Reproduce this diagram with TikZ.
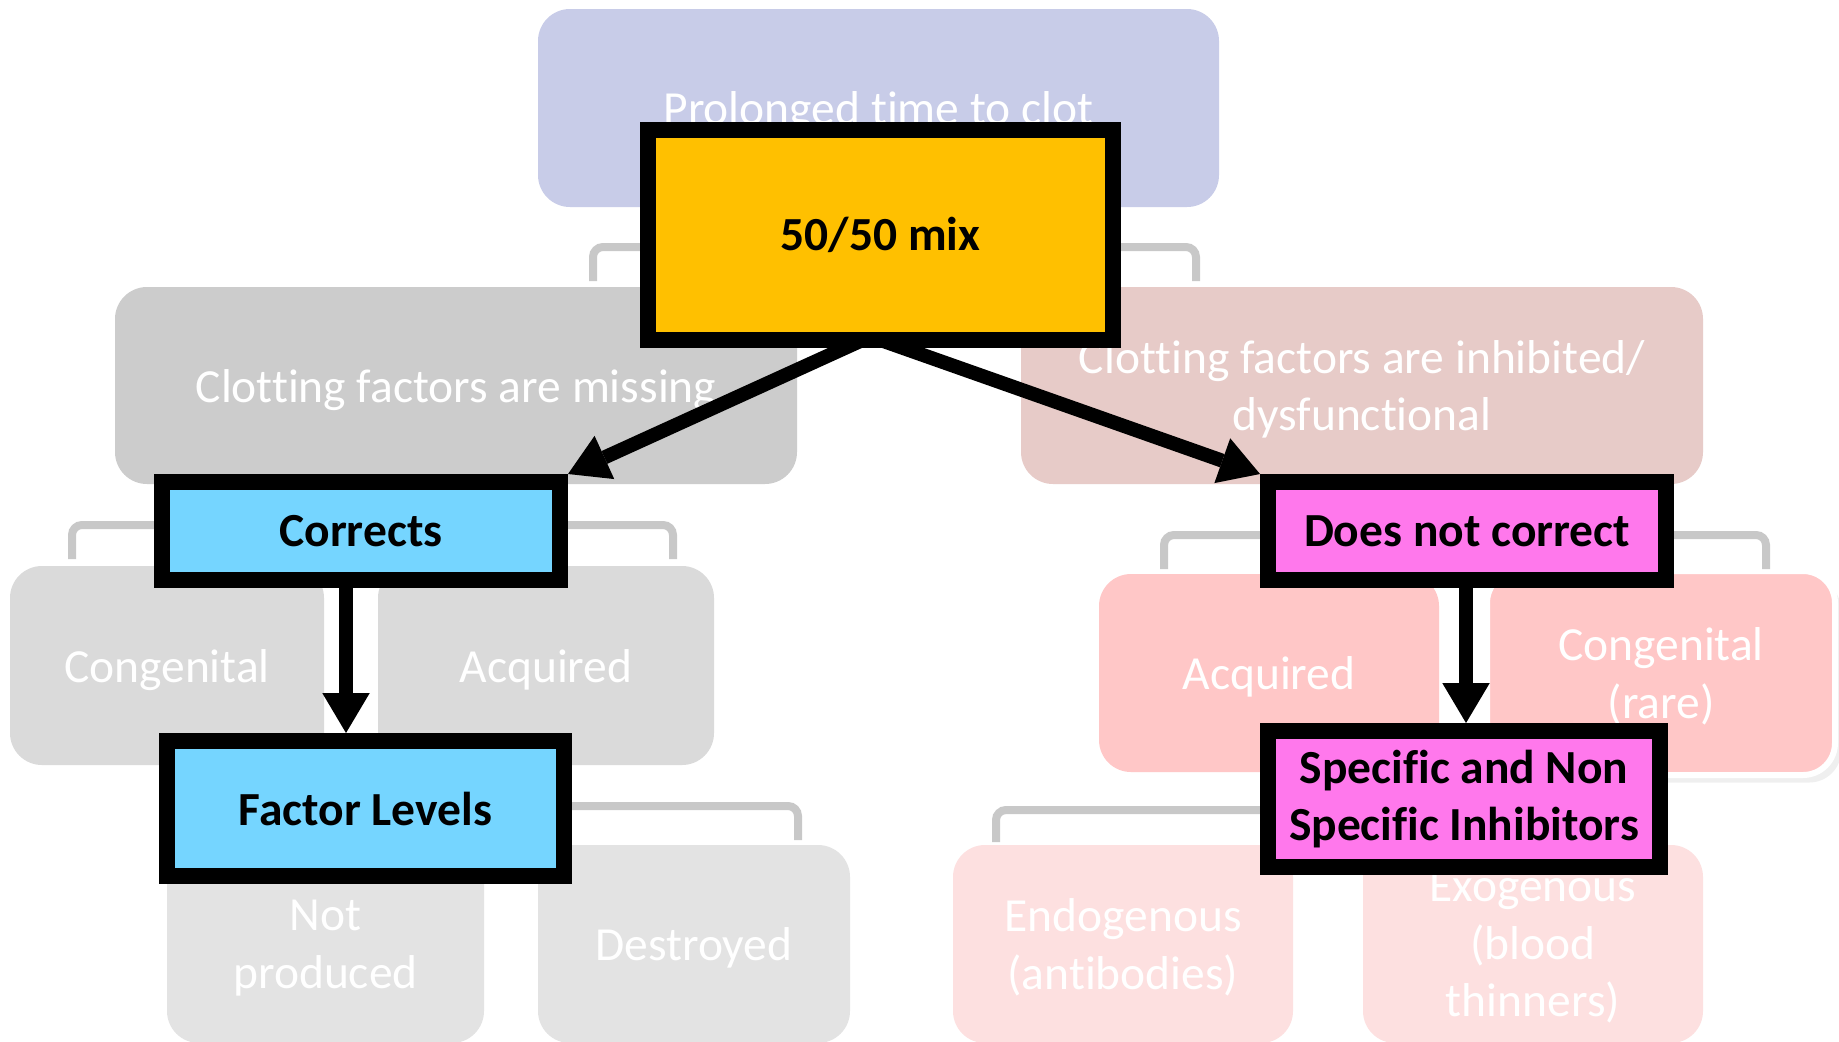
\documentclass[tikz,border=0pt]{standalone}
\usepackage{fontspec}
\setmainfont{Carlito}[Ligatures=NoCommon]
\usetikzlibrary{arrows.meta,calc,shadows}
\definecolor{topc}{RGB}{200,204,232}
\definecolor{missc}{RGB}{204,204,204}
\definecolor{inhc}{RGB}{231,203,200}
\definecolor{grayA}{RGB}{218,218,218}
\definecolor{grayB}{RGB}{227,227,227}
\definecolor{pinkA}{RGB}{255,199,199}
\definecolor{pinkB}{RGB}{253,224,224}
\definecolor{brkc}{RGB}{200,200,200}
\definecolor{orangec}{RGB}{255,192,0}
\definecolor{cyanc}{RGB}{117,213,255}
\definecolor{magc}{RGB}{255,120,236}
\tikzset{
  pale/.style={rectangle, rounded corners=12.8pt, draw=none, text=white,
    inner sep=0pt, align=center, text depth=0pt, font=\fontsize{19}{23}\selectfont},
  hl/.style={rectangle, draw=black, line width=6.4pt, text=black,
    inner sep=0pt, align=center, font=\bfseries\fontsize{19}{23}\selectfont},
  brk/.style={draw=brkc, line width=3.2pt, rounded corners=4pt},
  arr/.style={draw=black, line width=5.6pt,
    -{Triangle[length=16pt,width=19pt,line width=0pt]}},
  bw/.style={minimum width=#1*0.4pt},
  bh/.style={minimum height=#1*0.4pt}
}
\begin{document}
\begin{tikzpicture}[x=0.4pt,y=-0.4pt]
\clip (0,0) rectangle (1839,1041);
\fill[white] (0,0) rectangle (1839,1041);

% pale hierarchy boxes
\node[pale, fill=topc, bw=681, bh=198] (top) at (878.5,108) {Prolonged time to clot};
\node[pale, fill=missc, bw=682, bh=197] (miss) at (456,385.5) {Clotting factors are missing};
\node[pale, fill=inhc, bw=682, bh=197] (inh) at (1362,385.5) {Clotting factors are inhibited/\\dysfunctional};
\node[pale, fill=grayA, bw=314, bh=199] (cong1) at (167,665.5) {Congenital};
\node[pale, fill=grayA, bw=336, bh=199] (acq1) at (546,665.5) {Acquired};
\node[pale, fill=grayB, bw=317, bh=198] (notp) at (325.5,944) {Not\\produced};
\node[pale, fill=grayB, bw=312, bh=198] (dest) at (694,944) {Destroyed};
\node[pale, fill=pinkA, bw=340, bh=198] (acq2) at (1269,673) {Acquired};
\node[pale, fill=pinkA, draw=white, line width=2.4pt, bw=348, bh=204,
  drop shadow={shadow xshift=2.5pt, shadow yshift=-3pt, opacity=0.12}] (cong2) at (1661,673) {Congenital\\(rare)};
\node[pale, fill=pinkB, bw=340, bh=198] (endo) at (1123,944) {Endogenous\\(antibodies)};
\node[pale, fill=pinkB, bw=340, bh=198] (exo) at (1533,944) {Exogenous\\(blood\\thinners)};

% bracket connectors
\coordinate (ta) at (593,281); \coordinate (tb) at (1196,281);
\draw[brk] (ta) -- (593,247) -- (1196,247) -- (tb);
\coordinate (la) at (72,559); \coordinate (lb) at (673,559);
\draw[brk] (la) -- (72,525) -- (673,525) -- (lb);
\coordinate (ra) at (1164,569); \coordinate (rb) at (1766,569);
\draw[brk] (ra) -- (1164,535) -- (1766,535) -- (rb);
\coordinate (fa) at (420,806); \coordinate (fb) at (798,840);
\draw[brk] (fa) -- (798,806) -- (fb);
\coordinate (sa) at (996,842); \coordinate (sb) at (1400,810);
\draw[brk] (sa) -- (996,810) -- (sb);

% highlighted boxes
\node[hl, fill=orangec, bw=465, bh=210] (mix) at (880.5,235) {50/50 mix};
\node[hl, fill=cyanc, bw=398, bh=98] (corr) at (361,531) {Corrects};
\node[hl, fill=cyanc, bw=397, bh=135] (fl) at (365.5,808.5) {Factor Levels};
\node[hl, fill=magc, bw=398, bh=98] (dnc) at (1467,531) {Does not correct};
\node[hl, fill=magc, bw=392, bh=136] (spec) at (1464,799) {Specific and Non\\Specific Inhibitors};

% arrows
\draw[arr] ($(mix.south)+(-18,-8)$) -- (corr.north east);
\draw[arr] ($(mix.south)+(0,-8)$) -- (dnc.north west);
\coordinate (cs) at ($(corr.south)+(-15,-4)$);
\draw[arr] (cs) -- (cs |- fl.north);
\coordinate (ds) at ($(dnc.south)+(-1,-4)$);
\draw[arr] (ds) -- (ds |- spec.north);
\end{tikzpicture}
\end{document}
